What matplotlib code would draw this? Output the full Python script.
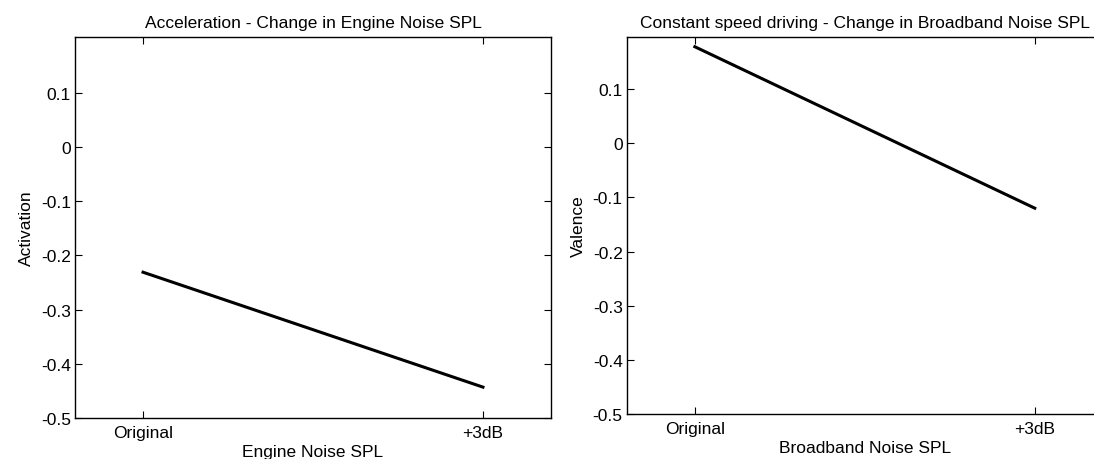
import numpy as np
import matplotlib.pyplot as plt

plt.rcParams['font.family'] = ['Liberation Sans', 'DejaVu Sans']

# levels on the x axis
levels = ['Original', '+3dB']
xpos = [1, 2]

# mean ratings for each level
activation = [-0.231, -0.443]
valence = [0.178, -0.120]

yticks = [-0.5, -0.4, -0.3, -0.2, -0.1, 0, 0.1]
yticklabels = ['-0.5', '-0.4', '-0.3', '-0.2', '-0.1', '0', '0.1']

fig = plt.figure(figsize=(10.94, 4.6), dpi=100)
ax1 = fig.add_axes([0.0686, 0.0891, 0.435, 0.8283])
ax2 = fig.add_axes([0.573, 0.0978, 0.435, 0.8196])


def style(ax, ytop):
    ax.set_xlim(0.8, 2.2)
    ax.set_ylim(-0.5, ytop)
    ax.set_xticks(xpos)
    ax.set_xticklabels(levels)
    ax.set_yticks(yticks)
    ax.set_yticklabels(yticklabels)
    ax.tick_params(direction='in', length=5, width=0.8, top=True, right=True,
                   labelsize=12.5, pad=3)
    ax.tick_params(axis='x', pad=5)
    for s in ax.spines.values():
        s.set_linewidth(1.0)


ax1.plot(xpos, activation, color='black', lw=2.2)
style(ax1, 0.203)
ax1.set_title('Acceleration - Change in Engine Noise SPL', fontsize=12.5, pad=7)
ax1.set_xlabel('Engine Noise SPL', fontsize=12.5, labelpad=3)
ax1.set_ylabel('Activation', fontsize=12.5, labelpad=5)

ax2.plot(xpos, valence, color='black', lw=2.2)
style(ax2, 0.196)
ax2.set_title('Constant speed driving - Change in Broadband Noise SPL', fontsize=12.5, pad=7)
ax2.set_xlabel('Broadband Noise SPL', fontsize=12.5, labelpad=3)
ax2.set_ylabel('Valence', fontsize=12.5, labelpad=5)

fig.savefig('out.png', dpi=100)
